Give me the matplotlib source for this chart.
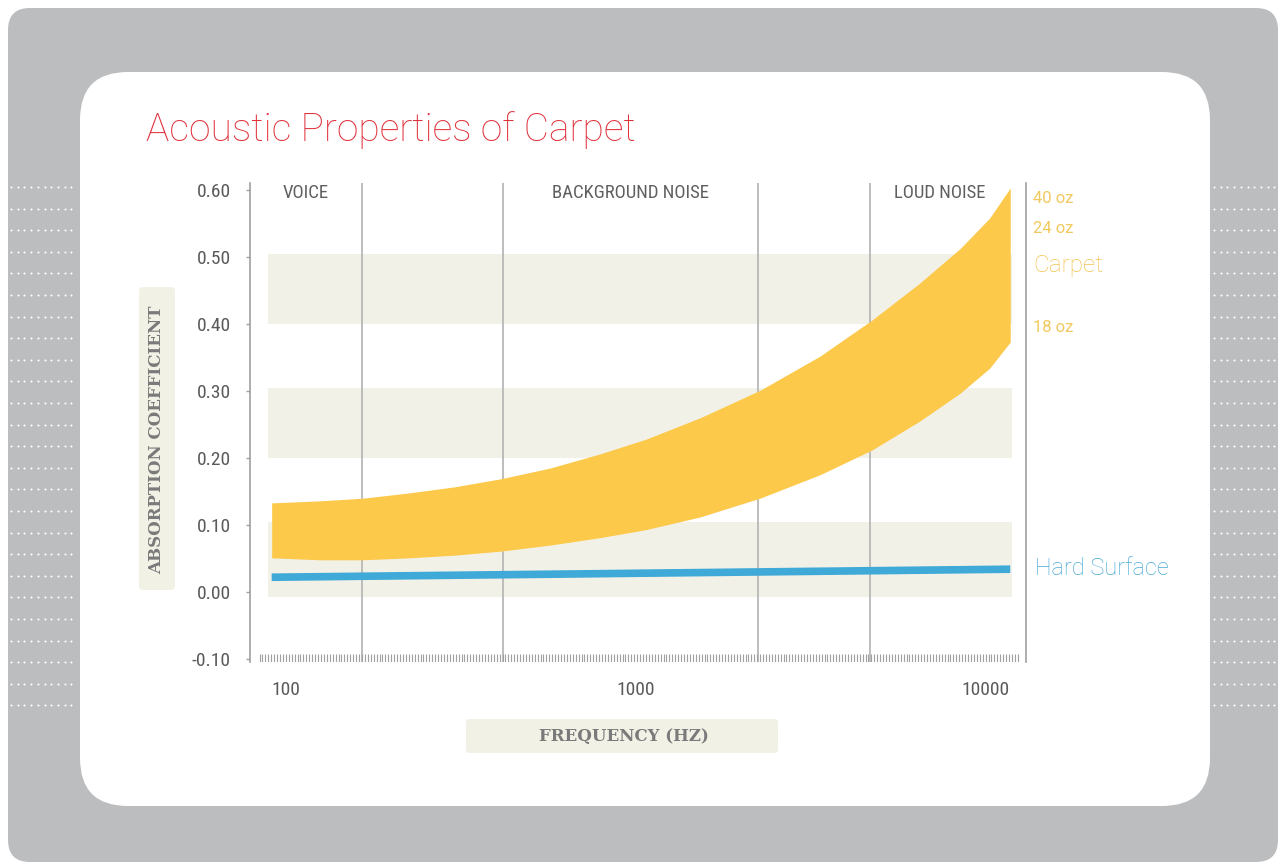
import numpy as np
import matplotlib
matplotlib.use('Agg')
import matplotlib.pyplot as plt
from matplotlib.patches import FancyBboxPatch
import matplotlib.transforms as mtransforms
from matplotlib import font_manager as fm

# ---------------- data ----------------
title = "Acoustic Properties of Carpet"
freq_carpet = [91, 125, 166, 226, 304, 412, 570, 790, 1070, 1530, 2270, 3370, 4750, 6500, 8500, 10300, 11800]
carpet_upper = [0.133, 0.136, 0.140, 0.148, 0.157, 0.169, 0.185, 0.206, 0.228, 0.260, 0.301,
                0.352, 0.406, 0.461, 0.513, 0.558, 0.603]
carpet_lower = [0.051, 0.048, 0.048, 0.051, 0.055, 0.061, 0.070, 0.081, 0.093, 0.112, 0.140,
                0.175, 0.212, 0.255, 0.297, 0.334, 0.373]
freq_hard = [91, 11800]
hard_surface = [0.022, 0.034]
region_bounds = [165, 418, 2240, 4690]
region_names = ["VOICE", "BACKGROUND NOISE", "LOUD NOISE"]
region_label_freq = [114, 968, 7440]
y_ticks = [-0.10, 0.00, 0.10, 0.20, 0.30, 0.40, 0.50, 0.60]
x_ticks = [100, 1000, 10000]
x_tick_labels = ["100", "1000", "10000"]
shade_bands = [(0.40, 0.505), (0.20, 0.305), (-0.007, 0.105)]
carpet_weights = ["40 oz", "24 oz", "18 oz"]
carpet_weight_y = [0.588, 0.542, 0.395]

# ---------------- fonts ----------------
cond_family, cond_stretch = 'DejaVu Sans', 'normal'
_entries = fm.fontManager.ttflist
_names = {f.name for f in _entries}
for cand in ['Liberation Sans Narrow', 'Roboto Condensed', 'Open Sans Condensed',
             'Noto Sans Condensed', 'DejaVu Sans Condensed']:
    if cand in _names:
        cond_family = cand
        break
else:
    for fam in ['Roboto', 'Open Sans', 'Noto Sans', 'DejaVu Sans']:
        if any(f.name == fam and 'condensed' in str(f.stretch).lower() for f in _entries):
            cond_family, cond_stretch = fam, 'condensed'
            break
COND = dict(family=[cond_family, 'DejaVu Sans'], fontstretch=cond_stretch)
LIGHT = dict(family=['Roboto', 'DejaVu Sans'], fontweight='light')
REG = dict(family=['Roboto', 'DejaVu Sans'], fontweight='normal')

W, H = 1281, 865
fig = plt.figure(figsize=(W / 100, H / 100), dpi=100)
fig.patch.set_facecolor('white')

# ---------------- decorative background ----------------
bg = fig.add_axes([0, 0, 1, 1])
bg.set_xlim(0, W)
bg.set_ylim(H, 0)
bg.axis('off')
bg.add_patch(FancyBboxPatch((8, 8), 1270, 854, boxstyle="round,pad=0,rounding_size=22",
                            fc='#bcbdbf', ec='none'))
bg.add_patch(FancyBboxPatch((80, 72), 1130, 734, boxstyle="round,pad=0,rounding_size=48",
                            fc='white', ec='none'))
rows = np.arange(187, 706, 21.6)
for xs in (np.arange(11, 78, 6.7), np.arange(1214, 1281, 6.7)):
    gx, gy = np.meshgrid(xs, rows)
    bg.scatter(gx.ravel(), gy.ravel(), s=2.2, c='white', linewidths=0)

# axis-label boxes
bg.add_patch(FancyBboxPatch((139, 287), 36, 303, boxstyle="round,pad=0,rounding_size=4",
                            fc='#f2f1e6', ec='none'))
bg.add_patch(FancyBboxPatch((466, 719), 312, 34, boxstyle="round,pad=0,rounding_size=3",
                            fc='#f2f1e6', ec='none'))
bg.text(157, 440, "ABSORPTION COEFFICIENT", rotation=90, ha='center', va='center',
        family='DejaVu Serif', fontsize=12, color='#7a7a7a', fontweight='bold')
bg.text(624, 737, "FREQUENCY (HZ)", ha='center', va='center',
        family='DejaVu Serif', fontsize=12, color='#7a7a7a', fontweight='bold')
bg.text(146, 130, title, ha='left', va='center', fontsize=28, color='#e0323c', **LIGHT)

# ---------------- main axes ----------------
L, R, T, B = 250, 1026, 183, 662
ax = fig.add_axes([L / W, (H - B) / H, (R - L) / W, (B - T) / H])
ax.set_facecolor('none')
ax.set_xscale('log')
ax.set_xlim(78.9, 13090)
ax.set_ylim(-0.1045, 0.6104)

for lo, hi in shade_bands:
    ax.fill_between([89, 11900], lo, hi, color='#f2f1e8', lw=0, zorder=1)

for f in region_bounds:
    ax.axvline(f, color='#b8b8b8', lw=1.3, zorder=2)

ax.fill_between(freq_carpet, carpet_lower, carpet_upper, color='#fcc94a', lw=0, zorder=3)
ax.plot(freq_hard, hard_surface, color='#3fa9d8', lw=5.5, solid_capstyle='butt', zorder=4)

tick_row = np.geomspace(84, 12400, 260)
ax.vlines(tick_row, -0.1045, -0.093, color='#a0a0a0', lw=0.8, zorder=2)

for name, f in zip(region_names, region_label_freq):
    ax.text(f, 0.596, name, ha='center', va='center', fontsize=13.5,
            color='#5f5f5f', zorder=5, **COND)

tr = mtransforms.blended_transform_factory(ax.transAxes, ax.transData)
for lab, yv in zip(carpet_weights, carpet_weight_y):
    ax.text(1.009, yv, lab, transform=tr, ha='left', va='center', fontsize=12,
            color='#f2c95f', **REG)
ax.text(1.009, 0.487, "Carpet", transform=tr, ha='left', va='center',
        fontsize=17.5, color='#f2c44f', **LIGHT)
ax.text(1.011, 0.035, "Hard Surface", transform=tr, ha='left', va='center',
        fontsize=17, color='#4aaad6', **LIGHT)

for s in ('top', 'bottom'):
    ax.spines[s].set_visible(False)
for s in ('left', 'right'):
    ax.spines[s].set_color('#a0a0a0')
    ax.spines[s].set_linewidth(1.2)

ax.set_yticks(y_ticks)
ax.set_yticklabels([f"{v:.2f}" for v in y_ticks], fontsize=14, color='#5a5a5a', **COND)
ax.tick_params(axis='y', length=3, width=1, color='#a0a0a0', pad=11)
ax.set_xticks(x_ticks)
ax.set_xticklabels(x_tick_labels, fontsize=14, color='#5a5a5a', **COND)
ax.xaxis.set_minor_locator(matplotlib.ticker.NullLocator())
ax.tick_params(axis='x', length=0, pad=14)

fig.savefig('out.png', dpi=100, facecolor='white')
